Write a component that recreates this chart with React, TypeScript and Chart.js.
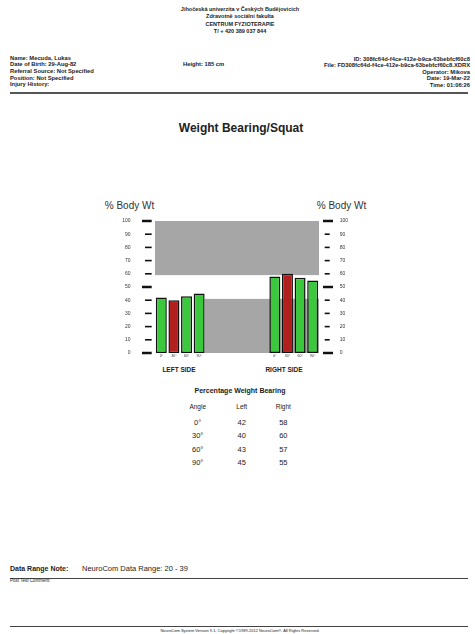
import React, { useEffect, useRef } from "react";
import { Chart, registerables } from "chart.js";

Chart.register(...registerables);

// ---- data ----
const angles = ["0°", "30°", "60°", "90°"];
const leftValues = [42, 40, 43, 45];
const rightValues = [58, 60, 57, 55];
const normalLow = 41;
const normalHigh = 59;
const yTicks = [0, 10, 20, 30, 40, 50, 60, 70, 80, 90, 100];
const gapSlots = 5;

const GREEN = "#3cc83c";
const RED = "#b11f1f";
const GRAY = "#a6a6a6";
const FONT = "'Liberation Sans', Arial, sans-serif";

type TP = {
  x: number;
  y: number;
  text: string;
  size: number;
  bold?: boolean;
  align?: "left" | "center" | "right";
  color?: string;
};

function T({ x, y, text, size, bold, align = "left", color = "#222" }: TP) {
  const style: React.CSSProperties = {
    position: "absolute",
    top: y - size * 0.58,
    fontSize: size,
    lineHeight: 1,
    fontWeight: bold ? "bold" : "normal",
    whiteSpace: "nowrap",
    color,
  };
  if (align === "left") style.left = x;
  else if (align === "right") style.right = 475 - x;
  else {
    style.left = x;
    style.transform = "translateX(-50%)";
  }
  return <div style={style}>{text}</div>;
}

function HLine({ y, x1, x2, w = 1, color = "#444" }: { y: number; x1: number; x2: number; w?: number; color?: string }) {
  return (
    <div
      style={{
        position: "absolute",
        top: y - w / 2,
        left: x1,
        width: x2 - x1,
        height: w,
        background: color,
      }}
    />
  );
}

function WeightChart() {
  const ref = useRef<HTMLCanvasElement | null>(null);
  useEffect(() => {
    if (!ref.current) return;
    const labels = [...angles, ...Array(gapSlots).fill(""), ...angles];
    const values: (number | null)[] = [...leftValues, ...Array(gapSlots).fill(null), ...rightValues];

    const bandPlugin = {
      id: "bands",
      beforeDatasetsDraw(chart: any) {
        const { ctx, chartArea, scales } = chart;
        const y = scales.y;
        ctx.save();
        ctx.fillStyle = GRAY;
        const top = y.getPixelForValue(100);
        const hi = y.getPixelForValue(normalHigh);
        ctx.fillRect(chartArea.left, top, chartArea.right - chartArea.left, hi - top);
        const meta = chart.getDatasetMeta(0);
        const lastLeft = meta.data[leftValues.length - 1];
        const startX = lastLeft.x + lastLeft.width / 2;
        const lo = y.getPixelForValue(normalLow);
        const zero = y.getPixelForValue(0);
        ctx.fillRect(startX, lo, chartArea.right - startX, zero - lo);
        ctx.restore();
      },
    };

    const tickMarkPlugin = {
      id: "tickMarks",
      afterDraw(chart: any) {
        const { ctx, chartArea, scales } = chart;
        const y = scales.y;
        ctx.save();
        ctx.strokeStyle = "#111";
        yTicks.forEach((v) => {
          const py = y.getPixelForValue(v);
          const long = v % 50 === 0;
          ctx.lineWidth = long ? 2.5 : 1.6;
          ctx.beginPath();
          ctx.moveTo(chartArea.left - (long ? 13 : 10), py);
          ctx.lineTo(chartArea.left - 3.3, py);
          ctx.stroke();
          ctx.beginPath();
          ctx.moveTo(chartArea.right + (long ? 4 : 5.7), py);
          ctx.lineTo(chartArea.right + (long ? 14 : 10.7), py);
          ctx.stroke();
        });
        ctx.restore();
      },
    };

    const yCommon = (gap: number) => ({
      min: 0,
      max: 100,
      grid: { display: false, drawTicks: true, tickLength: gap },
      border: { display: false },
      ticks: {
        stepSize: 10,
        padding: 0,
        color: "#333",
        font: { size: 5, family: FONT },
      },
    });

    const chart = new Chart(ref.current, {
      type: "bar",
      data: {
        labels,
        datasets: [
          {
            data: values,
            backgroundColor: (c: any) => {
              const v = c.raw as number;
              return v < normalLow || v > normalHigh ? RED : GREEN;
            },
            borderColor: "#111",
            borderWidth: 1.5,
            borderSkipped: false,
            barPercentage: 0.87,
            categoryPercentage: 1,
          },
        ],
      },
      options: {
        animation: false,
        responsive: false,
        maintainAspectRatio: false,
        layout: { padding: { top: 21, bottom: 0, left: 0, right: 0 } },
        plugins: { legend: { display: false }, tooltip: { enabled: false }, title: { display: false } },
        scales: {
          x: {
            type: "category",
            offset: true,
            grid: { display: false, drawTicks: false },
            border: { display: false },
            ticks: {
              autoSkip: false,
              maxRotation: 0,
              padding: 1,
              color: "#333",
              font: { size: 3.5, family: FONT },
            },
            afterFit: (s: any) => {
              s.height = 12;
            },
          },
          y: {
            ...yCommon(24.5),
            position: "left",
            afterFit: (s: any) => {
              s.width = 75;
            },
          },
          y2: {
            ...yCommon(20.7),
            position: "right",
            afterFit: (s: any) => {
              s.width = 81;
            },
          },
        },
      } as any,
      plugins: [bandPlugin, tickMarkPlugin],
    });
    return () => chart.destroy();
  }, []);
  return (
    <canvas
      ref={ref}
      width={320}
      height={165}
      style={{ position: "absolute", left: 80, top: 200, width: 320, height: 165 }}
    />
  );
}

export default function App() {
  return (
    <div
      style={{
        position: "absolute",
        left: 0,
        top: 0,
        width: 475,
        height: 634,
        background: "#fff",
        fontFamily: FONT,
        overflow: "hidden",
      }}
    >
      {/* institution header */}
      <T x={240} y={10} size={5.5} bold align="center" text="Jihočeská univerzita v Českých Budějovicích" />
      <T x={240} y={17.5} size={5.5} bold align="center" text="Zdravotně sociální fakulta" />
      <T x={240} y={25} size={5.5} bold align="center" text="CENTRUM FYZIOTERAPIE" />
      <T x={240} y={32.5} size={5.5} bold align="center" text="T/ + 420 389 037 844" />

      {/* patient block */}
      <T x={10} y={59} size={5.8} bold text="Name: Mecuda, Lukas" />
      <T x={10} y={65.7} size={5.8} bold text="Date of Birth: 29-Aug-82" />
      <T x={10} y={72.3} size={5.8} bold text="Referral Source: Not Specified" />
      <T x={10} y={79} size={5.8} bold text="Position: Not Specified" />
      <T x={10} y={85.7} size={5.8} bold text="Injury History:" />
      <T x={183} y={65.7} size={5.8} bold text="Height: 185 cm" />

      <T x={470} y={60} size={5.8} bold align="right" text="ID:  308fc64d-f4ce-412e-b9ca-63bebfcf60c8" />
      <T x={470} y={66.5} size={5.8} bold align="right" text="File: FD308fc64d-f4ce-412e-b9ca-63bebfcf60c8.XDRX" />
      <T x={470} y={73} size={5.8} bold align="right" text="Operator: Mikova" />
      <T x={470} y={79.5} size={5.8} bold align="right" text="Date: 19-Mar-22" />
      <T x={470} y={86} size={5.8} bold align="right" text="Time: 01:06:26" />
      <HLine y={93} x1={10} x2={468} w={1.5} color="#555" />

      <T x={241} y={129} size={12} bold align="center" text="Weight Bearing/Squat" />

      <T x={129.5} y={207} size={10} align="center" color="#333" text="% Body Wt" />
      <T x={341.5} y={207} size={10} align="center" color="#333" text="% Body Wt" />

      <WeightChart />

      <T x={179} y={371} size={6.5} bold align="center" text="LEFT SIDE" />
      <T x={284} y={371} size={6.5} bold align="center" text="RIGHT SIDE" />

      <T x={240} y={391} size={7} bold align="center" text="Percentage Weight Bearing" />
      <T x={197.7} y={408} size={6.5} align="center" text="Angle" />
      <T x={241.7} y={408} size={6.5} align="center" text="Left" />
      <T x={283.3} y={408} size={6.5} align="center" text="Right" />
      {angles.map((a, i) => (
        <React.Fragment key={a}>
          <T x={197.7} y={423 + i * 13.45} size={7.5} align="center" text={a} />
          <T x={241.7} y={423 + i * 13.45} size={7.5} align="center" text={String(leftValues[i])} />
          <T x={283.3} y={423 + i * 13.45} size={7.5} align="center" text={String(rightValues[i])} />
        </React.Fragment>
      ))}

      <T x={10} y={569} size={7} bold text="Data Range Note:" />
      <T x={82} y={569} size={7.5} text="NeuroCom Data Range: 20 - 39" />
      <HLine y={578} x1={10} x2={468} w={1} color="#444" />
      <T x={10} y={581.5} size={4.5} text="Post Test Comment:" />
      <HLine y={626.5} x1={10} x2={468} w={1} color="#444" />
      <T x={240} y={631} size={4} align="center" text="NeuroCom System Version 9.1, Copyright ©1989-2012 NeuroCom®. All Rights Reserved." />
    </div>
  );
}
